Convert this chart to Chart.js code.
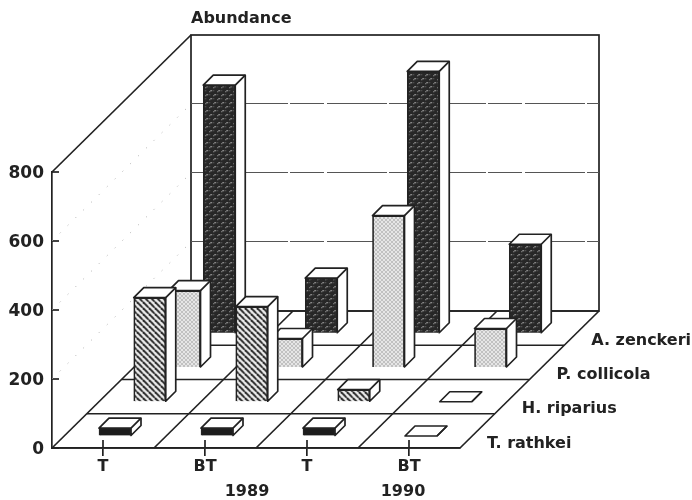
<!DOCTYPE html>
<html>
<head>
<meta charset="utf-8">
<style>html,body{margin:0;padding:0;background:#fff}canvas{display:block}</style>
<script src="https://cdn.jsdelivr.net/npm/chart.js@4"></script>
</head>
<body>
<canvas id="c" width="692" height="500"></canvas>
<script>
const categories = ['T', 'BT', 'T', 'BT'];
const years = ['1989', '1990'];
const axisTitle = 'Abundance';
const tRathkei = [23, 23, 23, 0];
const hRiparius = [302, 276, 35, 0];
const pCollicola = [223, 84, 440, 113];
const aZenckeri = [719, 160, 759, 258];

const INK = '#222';
const DEPTH_X = 34.75, DEPTH_Y = 34.25;   // one row of depth
const FRONT_X = 12, FRONT_Y = 12;         // bar offset inside its row
const BAR_DX = 10, BAR_DY = 10;           // bar's own depth
const LINE = 1.7;
const FONT = 'bold 16px "DejaVu Sans"';

function tile(size, paint) {
  const t = document.createElement('canvas');
  t.width = t.height = size;
  paint(t.getContext('2d'), size);
  return document.createElement('canvas').getContext('2d').createPattern(t, 'repeat');
}
const hatch = tile(6, (g, s) => {
  g.fillStyle = '#f0f0f0'; g.fillRect(0, 0, s, s);
  g.strokeStyle = '#1c1c1c'; g.lineWidth = 1.9;
  for (const o of [-s, 0, s]) { g.beginPath(); g.moveTo(o, 0); g.lineTo(o + s, s); g.stroke(); }
});
const lightStipple = tile(4, (g, s) => {
  g.fillStyle = '#e6e6e6'; g.fillRect(0, 0, s, s);
  g.fillStyle = '#555'; g.fillRect(0, 0, 1, 1); g.fillRect(2, 2, 1, 1);
});
const darkStipple = tile(8, (g, s) => {
  g.fillStyle = '#272727'; g.fillRect(0, 0, s, s);
  g.fillStyle = '#a8a8a8'; g.fillRect(2, 1, 2, 1); g.fillRect(1, 2, 1, 1); g.fillRect(6, 5, 2, 1); g.fillRect(5, 6, 1, 1);
  g.fillStyle = '#6a6a6a'; g.fillRect(5, 1, 1, 1); g.fillRect(1, 5, 1, 1);
});

function line(ctx, x1, y1, x2, y2) { ctx.beginPath(); ctx.moveTo(x1, y1); ctx.lineTo(x2, y2); ctx.stroke(); }

const box3d = {
  id: 'box3d',
  beforeDatasetsDraw(chart) {
    const { ctx, scales: { x, y } } = chart;
    const rows = chart.data.datasets.length;
    const L = x.left, R = x.right, B = y.getPixelForValue(0), T = y.getPixelForValue(800);
    const wx = DEPTH_X * rows, wy = DEPTH_Y * rows;
    ctx.save();
    ctx.strokeStyle = INK; ctx.lineWidth = LINE;
    // walls
    ctx.strokeRect(L + wx, T - wy, R - L, B - T);
    line(ctx, L, T, L + wx, T - wy);
    // row lines on the floor
    for (let r = 0; r <= rows; r++) line(ctx, L + DEPTH_X * r, B - DEPTH_Y * r, R + DEPTH_X * r, B - DEPTH_Y * r);
    // category dividers on the floor
    const cell = (R - L) / categories.length;
    for (let k = 0; k <= categories.length; k++) line(ctx, L + k * cell, B, L + k * cell + wx, B - wy);
    // ticks on front y axis and over x axis
    y.ticks.forEach(t => { const p = y.getPixelForValue(t.value); line(ctx, L, p, L + 7, p); });
    categories.forEach((_, i) => { const p = x.getPixelForValue(i); line(ctx, p, B - 8, p, B); });
    // wall gridlines
    y.ticks.forEach(t => {
      if (t.value === 0 || t.value === 800) return;
      const p = y.getPixelForValue(t.value);
      ctx.lineWidth = 1; ctx.strokeStyle = '#555'; ctx.setLineDash([34, 3, 60, 2]);
      line(ctx, L + wx, p - wy - 0.5, R + wx, p - wy - 0.5);
      ctx.strokeStyle = '#aaa'; ctx.setLineDash([1, 10]);
      line(ctx, L, p, L + wx, p - wy);
    });
    ctx.setLineDash([]);
    ctx.restore();
  },
  beforeDatasetDraw(chart, args) {
    const { ctx } = chart;
    ctx.save();
    ctx.translate(FRONT_X + DEPTH_X * args.index, -FRONT_Y - DEPTH_Y * args.index);
    ctx.strokeStyle = INK; ctx.fillStyle = '#fff'; ctx.lineWidth = LINE; ctx.lineJoin = 'round';
    args.meta.data.forEach(b => {
      const p = b.getProps(['x', 'y', 'base', 'width'], true);
      const l = p.x - p.width / 2, r = p.x + p.width / 2;
      ctx.beginPath();
      ctx.moveTo(r, p.base); ctx.lineTo(r + BAR_DX, p.base - BAR_DY);
      ctx.lineTo(r + BAR_DX, p.y - BAR_DY); ctx.lineTo(l + BAR_DX, p.y - BAR_DY);
      ctx.lineTo(l, p.y); ctx.lineTo(r, p.y); ctx.closePath();
      ctx.fill(); ctx.stroke();
      line(ctx, r, p.y, r + BAR_DX, p.y - BAR_DY);
    });
  },
  afterDatasetDraw(chart) { chart.ctx.restore(); },
  afterDatasetsDraw(chart) {
    const { ctx, scales: { x, y } } = chart;
    const rows = chart.data.datasets.length;
    const B = y.getPixelForValue(0);
    ctx.save();
    ctx.fillStyle = INK; ctx.font = FONT; ctx.textBaseline = 'middle'; ctx.textAlign = 'left';
    ctx.fillText(axisTitle, x.left + DEPTH_X * rows, y.getPixelForValue(800) - DEPTH_Y * rows - 16);
    chart.data.datasets.forEach((d, i) => {
      ctx.fillText(d.label, x.right + 27 + DEPTH_X * i, B - 4.5 - DEPTH_Y * i);
    });
    ctx.textAlign = 'center';
    ctx.fillText(years[0], x.getPixelForValue(1) + 42, B + 44);
    ctx.fillText(years[1], x.getPixelForValue(3) - 6, B + 44);
    ctx.restore();
  }
};

function bars(label, data, fill) {
  return { label, data, backgroundColor: fill, borderColor: INK, borderWidth: LINE, clip: false };
}

new Chart(document.getElementById('c'), {
  type: 'bar',
  data: {
    labels: categories,
    datasets: [
      bars('T. rathkei', tRathkei, '#1c1c1c'),
      bars('H. riparius', hRiparius, hatch),
      bars('P. collicola', pCollicola, lightStipple),
      bars('A. zenckeri', aZenckeri, darkStipple)
    ]
  },
  options: {
    responsive: false,
    animation: false,
    layout: { padding: { top: 172, right: 232, left: 0, bottom: 0 } },
    datasets: { bar: { grouped: false, barThickness: 32 } },
    plugins: { legend: { display: false }, tooltip: { enabled: false }, title: { display: false } },
    scales: {
      x: {
        afterFit: s => { s.height = 52; },
        grid: { drawOnChartArea: false, drawTicks: true, tickLength: 8, offset: false, color: INK, lineWidth: LINE },
        border: { color: INK, width: LINE },
        ticks: { color: INK, font: { family: 'DejaVu Sans', weight: 'bold', size: 16 }, padding: 1, maxRotation: 0 }
      },
      y: {
        min: 0, max: 800,
        afterFit: s => { s.width = 52; },
        grid: { drawOnChartArea: false, drawTicks: false },
        border: { color: INK, width: LINE },
        ticks: { stepSize: 200, color: INK, font: { family: 'DejaVu Sans', weight: 'bold', size: 17 }, padding: 8, labelOffset: 2 }
      }
    }
  },
  plugins: [box3d]
});
</script>
</body>
</html>
